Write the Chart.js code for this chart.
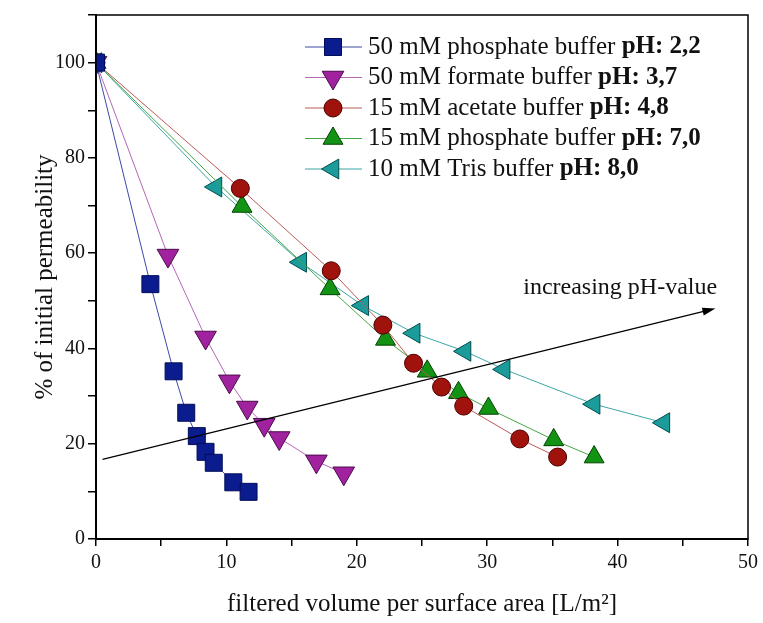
<!DOCTYPE html>
<html>
<head>
<meta charset="utf-8">
<script src="https://cdn.jsdelivr.net/npm/chart.js@4.4.0/dist/chart.umd.min.js"></script>
<style>
  body { margin: 0; background: #fff; }
  #wrap { width: 763px; height: 623px; }
</style>
</head>
<body>
<div id="wrap"><canvas id="permChart"></canvas></div>
<script>
// series names (normal part) and pH part (bold)
var bufferNames = ["50 mM phosphate buffer ", "50 mM formate buffer ", "15 mM acetate buffer ", "15 mM phosphate buffer ", "10 mM Tris buffer "];
var phLabels = ["pH: 2,2", "pH: 3,7", "pH: 4,8", "pH: 7,0", "pH: 8,0"];

// filtered volume [L/m2] and % of initial permeability
var volPh22 = [0, 4.17, 5.95, 6.92, 7.73, 8.4, 9.03, 10.53, 11.7];
var permPh22 = [100, 53.5, 35.2, 26.5, 21.6, 18.3, 16.0, 11.9, 9.9];

var volPh37 = [0, 5.52, 8.4, 10.23, 11.6, 12.9, 14.05, 16.9, 19.0];
var permPh37 = [100, 59.5, 42.3, 33.1, 27.6, 24.0, 21.2, 16.3, 13.8];

var volPh48 = [0, 11.07, 18.04, 22.0, 24.35, 26.5, 28.2, 32.5, 35.4];
var permPh48 = [100, 73.6, 56.3, 44.9, 36.9, 31.9, 27.9, 21.0, 17.2];

var volPh70 = [0, 11.2, 17.95, 22.2, 25.4, 27.8, 30.1, 35.1, 38.2];
var permPh70 = [100, 69.8, 52.5, 41.9, 35.2, 30.7, 27.4, 20.8, 17.2];

var volPh80 = [0, 9.2, 15.7, 20.46, 24.4, 28.3, 31.3, 38.2, 43.55];
var permPh80 = [100, 73.9, 58.1, 49.0, 43.2, 39.4, 35.6, 28.3, 24.4];

// arrow "increasing pH-value" (data coords)
var arrowFrom = [0.5, 16.7];
var arrowTo = [47.5, 48.4];
var arrowText = "increasing pH-value";
var arrowTextPos = [40.2, 52.7];

var xTicks = [0, 10, 20, 30, 40, 50];
var yTicks = [0, 20, 40, 60, 80, 100];

var fillColors = ['#0b1d8e', '#a1229f', '#a0120c', '#139313', '#1c9b9b'];
var edgeColors = ['#000c55', '#4c0a4c', '#4a0000', '#004400', '#004e4e'];
var lineColors = ['#3c49a8', '#b466b9', '#bb5a5a', '#45a645', '#3ea6a6'];
var styles = ['rect', 'triangle', 'circle', 'triangle', 'triangle'];
var rotations = [0, 180, 0, 0, 270];
var radii = [12, 12.5, 9, 11.5, 11.5];

var serif = "'Liberation Serif', 'Times New Roman', serif";

function pts(xs, ys) {
  return xs.map(function (x, i) { return { x: x, y: ys[i] }; });
}

var allVol = [volPh22, volPh37, volPh48, volPh70, volPh80];
var allPerm = [permPh22, permPh37, permPh48, permPh70, permPh80];

var datasets = allVol.map(function (xs, i) {
  return {
    label: bufferNames[i] + phLabels[i],
    data: pts(xs, allPerm[i]),
    showLine: true,
    borderColor: lineColors[i],
    borderWidth: 1,
    pointStyle: styles[i],
    rotation: rotations[i],
    pointRadius: radii[i],
    pointBackgroundColor: fillColors[i],
    pointBorderColor: edgeColors[i],
    pointBorderWidth: 1
  };
});

var extras = {
  id: 'extras',
  afterDatasetsDraw: function (chart) {
    var ctx = chart.ctx, a = chart.chartArea;
    var xs = chart.scales.x, ys = chart.scales.y;
    ctx.save();
    // frame
    ctx.strokeStyle = '#000';
    ctx.lineWidth = 1.5;
    ctx.strokeRect(a.left, a.top, a.right - a.left, a.bottom - a.top);

    // arrow
    var x1 = xs.getPixelForValue(arrowFrom[0]), y1 = ys.getPixelForValue(arrowFrom[1]);
    var x2 = xs.getPixelForValue(arrowTo[0]), y2 = ys.getPixelForValue(arrowTo[1]);
    var ang = Math.atan2(y2 - y1, x2 - x1);
    ctx.lineWidth = 1.2;
    ctx.beginPath();
    ctx.moveTo(x1, y1);
    ctx.lineTo(x2 - 10 * Math.cos(ang), y2 - 10 * Math.sin(ang));
    ctx.stroke();
    ctx.fillStyle = '#000';
    ctx.beginPath();
    ctx.moveTo(x2, y2);
    ctx.lineTo(x2 - 13 * Math.cos(ang) + 4 * Math.sin(ang), y2 - 13 * Math.sin(ang) - 4 * Math.cos(ang));
    ctx.lineTo(x2 - 13 * Math.cos(ang) - 4 * Math.sin(ang), y2 - 13 * Math.sin(ang) + 4 * Math.cos(ang));
    ctx.closePath();
    ctx.fill();

    ctx.font = '24px ' + serif;
    ctx.textAlign = 'center';
    ctx.textBaseline = 'middle';
    ctx.fillStyle = '#111';
    ctx.fillText(arrowText, xs.getPixelForValue(arrowTextPos[0]), ys.getPixelForValue(arrowTextPos[1]));

    // legend
    ctx.textAlign = 'left';
    for (var i = 0; i < bufferNames.length; i++) {
      var ry = 47 + i * 30.5;
      ctx.strokeStyle = lineColors[i];
      ctx.lineWidth = 1.2;
      ctx.beginPath();
      ctx.moveTo(305, ry);
      ctx.lineTo(362, ry);
      ctx.stroke();
      ctx.fillStyle = fillColors[i];
      ctx.strokeStyle = edgeColors[i];
      ctx.lineWidth = 1;
      Chart.helpers.drawPoint(ctx, { pointStyle: styles[i], rotation: rotations[i], radius: radii[i], borderWidth: 1 }, 333, ry);
      ctx.fillStyle = '#111';
      ctx.font = '25px ' + serif;
      ctx.fillText(bufferNames[i], 368, ry);
      var w = ctx.measureText(bufferNames[i]).width;
      ctx.font = 'bold 25px ' + serif;
      ctx.fillText(phLabels[i], 368 + w, ry);
    }
    ctx.restore();
  }
};

new Chart(document.getElementById('permChart'), {
  type: 'scatter',
  data: { datasets: datasets },
  options: {
    responsive: true,
    maintainAspectRatio: false,
    animation: false,
    layout: { padding: { top: 11, right: 13, left: 0, bottom: 0 } },
    plugins: { legend: { display: false }, tooltip: { enabled: false } },
    scales: {
      x: {
        type: 'linear',
        min: 0, max: 50,
        afterFit: function (s) { s.height = 84; },
        border: { color: '#000', width: 2 },
        grid: { drawOnChartArea: false, tickLength: 7, color: '#000', lineWidth: 1.5 },
        ticks: {
          stepSize: 5, autoSkip: false, padding: 5, color: '#111',
          font: { family: serif, size: 20 },
          callback: function (v) { return xTicks.indexOf(v) >= 0 ? v : ''; }
        },
        title: {
          display: true, text: 'filtered volume per surface area [L/m\u00B2]',
          color: '#111', font: { family: serif, size: 25 }, padding: { top: 0, bottom: 4 }
        }
      },
      y: {
        type: 'linear',
        min: 0, max: 110,
        afterFit: function (s) { s.width = 96; },
        border: { color: '#000', width: 2 },
        grid: { drawOnChartArea: false, tickLength: 8, color: '#000', lineWidth: 1.5 },
        ticks: {
          stepSize: 10, autoSkip: false, padding: 3, color: '#111',
          font: { family: serif, size: 20 },
          callback: function (v) { return yTicks.indexOf(v) >= 0 ? v : ''; }
        },
        title: {
          display: true, text: '% of initial permeability',
          color: '#111', font: { family: serif, size: 25 }, padding: { top: 30, bottom: 0 }
        }
      }
    }
  },
  plugins: [extras]
});
</script>
</body>
</html>
